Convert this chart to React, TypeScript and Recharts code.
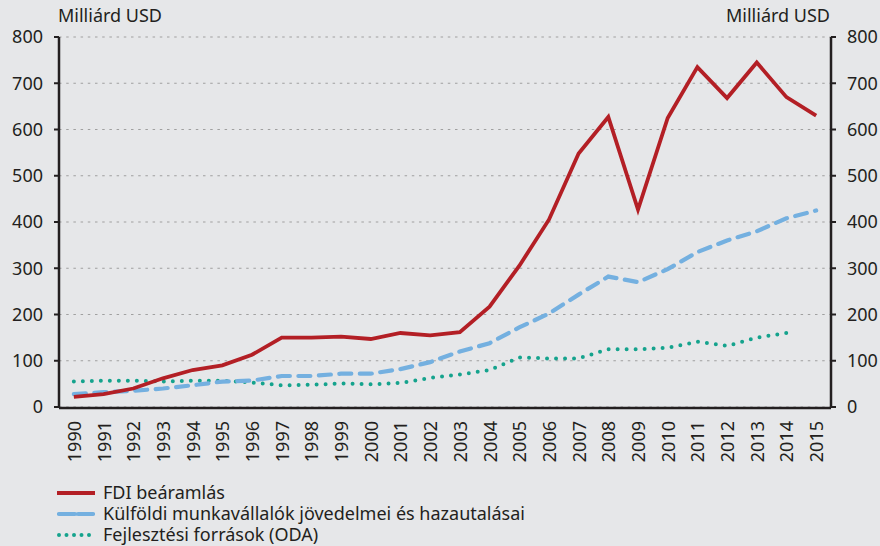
import React from 'react';
import { LineChart, Line, XAxis, YAxis, CartesianGrid } from 'recharts';

const years = [
  '1990', '1991', '1992', '1993', '1994', '1995', '1996', '1997', '1998', '1999', '2000', '2001', '2002',
  '2003', '2004', '2005', '2006', '2007', '2008', '2009', '2010', '2011', '2012', '2013', '2014', '2015',
];

// Milliárd USD
const fdi = [22, 28, 40, 62, 80, 90, 113, 150, 150, 152, 147, 160, 155, 162, 217, 305, 405, 548, 627, 427, 625, 735, 668, 745, 670, 630];
const remittances = [28, 32, 35, 40, 47, 55, 57, 67, 67, 72, 72, 82, 97, 120, 138, 172, 202, 243, 282, 270, 298, 335, 360, 380, 408, 425];
const oda = [55, 57, 57, 55, 57, 57, 53, 47, 48, 51, 49, 52, 63, 70, 80, 107, 105, 105, 125, 125, 128, 141, 132, 150, 160, null];

const yTicks = [0, 100, 200, 300, 400, 500, 600, 700, 800];
const boundaryTicks = Array.from({ length: years.length + 1 }, (_, i) => i);

const seriesNames = {
  fdi: 'FDI beáramlás',
  remittances: 'Külföldi munkavállalók jövedelmei és hazautalásai',
  oda: 'Fejlesztési források (ODA)',
};

const COLORS = {
  bg: '#e6e7e9',
  ink: '#231f20',
  grid: '#a0a0a0',
  fdi: '#b31f25',
  remittances: '#74b0e0',
  oda: '#15a38d',
};

const FONT = '"Noto Sans", "Open Sans", sans-serif';

const STYLES = {
  fdi: { strokeWidth: 3.8, strokeDasharray: undefined as string | undefined, strokeLinecap: 'butt' as const },
  remittances: { strokeWidth: 4.2, strokeDasharray: '12 8.5', strokeLinecap: 'round' as const },
  oda: { strokeWidth: 4, strokeDasharray: '0 9', strokeLinecap: 'round' as const },
};

// legend samples are drawn a bit tighter than in the plot
const LEGEND_DASH = {
  fdi: undefined as string | undefined,
  remittances: '16 3',
  oda: '0 7.5',
};

const data = years.map((year, i) => ({
  year,
  fdi: fdi[i],
  remittances: remittances[i],
  oda: oda[i],
}));

const YearTick = (props: any) => {
  const { x, y, payload } = props;
  return (
    <text
      x={x}
      y={y}
      transform={`rotate(-90, ${x}, ${y})`}
      textAnchor="end"
      dominantBaseline="central"
      fill={COLORS.ink}
      fontSize={18}
      fontFamily={FONT}
    >
      {payload.value}
    </text>
  );
};

const LegendRow = ({ k }: { k: keyof typeof seriesNames }) => (
  <div style={{ display: 'flex', alignItems: 'center', height: 21, overflow: 'visible' }}>
    <svg width={38} height={10} style={{ marginRight: 8, flex: 'none' }}>
      <line
        x1={k === 'fdi' ? 0 : 2}
        y1={5}
        x2={k === 'fdi' ? 38 : 36}
        y2={5}
        stroke={COLORS[k]}
        strokeWidth={STYLES[k].strokeWidth}
        strokeDasharray={LEGEND_DASH[k]}
        strokeLinecap={STYLES[k].strokeLinecap}
      />
    </svg>
    <div style={{ height: 21, lineHeight: '21px', whiteSpace: 'nowrap' }}>{seriesNames[k]}</div>
  </div>
);

export default function App() {
  return (
    <div
      style={{
        position: 'absolute',
        left: 0,
        top: 0,
        width: 880,
        height: 546,
        background: COLORS.bg,
        fontFamily: FONT,
        color: COLORS.ink,
        overflow: 'hidden',
      }}
    >
      <div style={{ position: 'absolute', left: 58, top: 3, fontSize: 18 }}>Milliárd USD</div>
      <div style={{ position: 'absolute', right: 50, top: 3, fontSize: 18 }}>Milliárd USD</div>

      <LineChart width={880} height={546} data={data} margin={{ top: 37, right: 0, left: 0, bottom: 137 }}>
        <CartesianGrid
          yAxisId="left"
          vertical={false}
          stroke={COLORS.grid}
          strokeDasharray="2.5 4.7"
          strokeWidth={1.2}
        />
        <XAxis
          dataKey="year"
          scale="band"
          interval={0}
          height={1}
          axisLine={false}
          tickLine={false}
          tickSize={6}
          tickMargin={8}
          tick={<YearTick />}
        />
        <XAxis
          xAxisId="bounds"
          type="number"
          domain={[0, years.length]}
          ticks={boundaryTicks}
          interval={0}
          height={1}
          tick={false}
          tickSize={4}
          axisLine={{ stroke: COLORS.ink, strokeWidth: 2.5 }}
          tickLine={{ stroke: COLORS.ink, strokeWidth: 2 }}
          allowDataOverflow
        />
        <YAxis
          yAxisId="left"
          domain={[0, 800]}
          ticks={yTicks}
          width={59}
          tickSize={5}
          tickMargin={11}
          axisLine={{ stroke: COLORS.ink, strokeWidth: 2.5 }}
          tickLine={{ stroke: COLORS.ink, strokeWidth: 2 }}
          tick={{ fill: COLORS.ink, fontSize: 18, fontFamily: FONT }}
        />
        <YAxis
          yAxisId="right"
          orientation="right"
          domain={[0, 800]}
          ticks={yTicks}
          width={49}
          tickSize={5}
          tickMargin={11}
          axisLine={{ stroke: COLORS.ink, strokeWidth: 2.5 }}
          tickLine={{ stroke: COLORS.ink, strokeWidth: 2 }}
          tick={{ fill: COLORS.ink, fontSize: 18, fontFamily: FONT }}
          allowDataOverflow
        />
        <Line
          yAxisId="left"
          type="linear"
          dataKey="oda"
          stroke={COLORS.oda}
          {...STYLES.oda}
          dot={false}
          isAnimationActive={false}
        />
        <Line
          yAxisId="left"
          type="linear"
          dataKey="remittances"
          stroke={COLORS.remittances}
          {...STYLES.remittances}
          dot={false}
          isAnimationActive={false}
        />
        <Line
          yAxisId="left"
          type="linear"
          dataKey="fdi"
          stroke={COLORS.fdi}
          {...STYLES.fdi}
          dot={false}
          isAnimationActive={false}
        />
      </LineChart>

      <div style={{ position: 'absolute', left: 57, top: 482, fontSize: 18 }}>
        <LegendRow k="fdi" />
        <LegendRow k="remittances" />
        <LegendRow k="oda" />
      </div>
    </div>
  );
}
